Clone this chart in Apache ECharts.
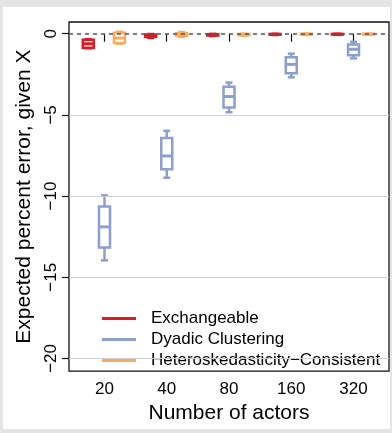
<!DOCTYPE html>
<html>
<head>
<meta charset="utf-8">
<script src="https://cdn.jsdelivr.net/npm/echarts@6/dist/echarts.min.js"></script>
<style>
  html, body { margin: 0; padding: 0; background: #e4e4e4; }
  #frame { position: absolute; left: 0; top: 0; width: 392px; height: 433px; background: #e4e4e4; }
  #chart { position: absolute; left: 3px; top: 7px; width: 387px; height: 422px; background: #fff; }
</style>
</head>
<body>
<div id="frame"><div id="chart"></div></div>
<script>
const sizes = ['20', '40', '80', '160', '320']
const seriesNames = ['Exchangeable', 'Dyadic Clustering', 'Heteroskedasticity\u2212Consistent']
const yTicks = [-20, -15, -10, -5, 0]

// [lower whisker, Q1, median, Q3, upper whisker] per number of actors
const exchangeable = [
  [-0.90, -0.86, -0.62, -0.38, -0.34],
  [-0.26, -0.20, -0.12, -0.05, -0.02],
  [-0.14, -0.11, -0.07, -0.03, -0.01],
  [-0.08, -0.06, -0.04, -0.02, -0.01],
  [-0.07, -0.05, -0.03, -0.02, -0.01]
]
const dyadic = [
  [-13.96, -13.17, -11.90, -10.64, -9.96],
  [-8.87, -8.35, -7.53, -6.43, -5.98],
  [-4.84, -4.54, -3.87, -3.27, -3.01],
  [-2.69, -2.44, -1.89, -1.45, -1.23],
  [-1.52, -1.33, -0.96, -0.66, -0.50]
]
const hetero = [
  [-0.62, -0.57, -0.27, 0.06, 0.12],
  [-0.20, -0.13, -0.05, 0.03, 0.10],
  [-0.12, -0.09, -0.06, -0.02, 0.00],
  [-0.08, -0.05, -0.03, -0.01, 0.00],
  [-0.07, -0.05, -0.03, -0.01, 0.00]
]

const colors = ['#dc1c24', '#8c9fd0', '#f9ab62']
const offsets = [-0.26, 0, 0.24]
const font = '"Liberation Sans", Arial, Helvetica, sans-serif'

const chart = echarts.init(document.getElementById('chart'))

// box with whiskers drawn in pixel space from the axis scales
const renderBox = (params, api) => {
  const x = api.value(0)
  const lo = api.coord([x, api.value(1)])
  const q1 = api.coord([x, api.value(2)])
  const med = api.coord([x, api.value(3)])
  const q3 = api.coord([x, api.value(4)])
  const hi = api.coord([x, api.value(5)])
  const cx = lo[0]
  const hw = 5.5 // half box width
  const cw = 3.5 // half cap width
  const color = api.visual('color')
  const st = { stroke: color, lineWidth: 2.5, fill: null }
  const line = (x1, y1, x2, y2, w) => ({
    type: 'line',
    shape: { x1, y1, x2, y2 },
    style: { stroke: color, lineWidth: w || 2.5 }
  })
  return {
    type: 'group',
    children: [
      line(cx, hi[1], cx, q3[1]),
      line(cx, q1[1], cx, lo[1]),
      line(cx - cw, hi[1], cx + cw, hi[1]),
      line(cx - cw, lo[1], cx + cw, lo[1]),
      { type: 'rect', shape: { x: cx - hw, y: q3[1], width: hw * 2, height: q1[1] - q3[1] }, style: st },
      line(cx - hw, med[1], cx + hw, med[1], 3)
    ]
  }
}

const boxSeries = [exchangeable, dyadic, hetero].map((rows, k) => ({
  name: seriesNames[k],
  type: 'custom',
  z: 3,
  itemStyle: { color: colors[k] },
  renderItem: renderBox,
  encode: { x: 0, y: [1, 2, 3, 4, 5] },
  data: rows.map((r, i) => [i + 1 + offsets[k], ...r])
}))

const option = {
  animation: false,
  backgroundColor: '#fff',
  textStyle: { fontFamily: font },
  grid: {
    left: 66, top: 15, width: 320, height: 357,
    show: true, borderColor: '#111', borderWidth: 1.3, backgroundColor: 'transparent'
  },
  legend: {
    orient: 'vertical',
    left: 94,
    top: 296,
    itemWidth: 34,
    itemHeight: 3,
    itemGap: 0,
    selectedMode: false,
    data: seriesNames.map(n => ({ name: n, icon: 'rect' })),
    textStyle: { fontSize: 17, color: '#000', fontFamily: font, lineHeight: 21, padding: [0, 0, 0, 10] }
  },
  xAxis: {
    type: 'value',
    min: 0.43,
    max: 5.57,
    name: 'Number of actors',
    nameLocation: 'middle',
    nameGap: 31,
    nameTextStyle: { fontSize: 21, color: '#000', fontFamily: font },
    axisLine: { show: false },
    splitLine: { show: false },
    axisTick: { show: true, length: 8, lineStyle: { color: '#111', width: 1.2 }, customValues: [1, 2, 3, 4, 5] },
    axisLabel: {
      fontSize: 17, color: '#000', margin: 10, fontFamily: font,
      customValues: [1, 2, 3, 4, 5],
      formatter: v => sizes[Math.round(v) - 1]
    }
  },
  yAxis: {
    type: 'value',
    min: -20.78,
    max: 0.72,
    name: 'Expected percent error, given X',
    nameLocation: 'middle',
    nameGap: 32,
    nameRotate: 90,
    nameTextStyle: { fontSize: 21, color: '#000', fontFamily: font },
    axisLine: { show: false },
    splitLine: { show: false },
    axisTick: { show: true, length: 7, lineStyle: { color: '#111', width: 1.2 }, customValues: yTicks },
    axisLabel: {
      fontSize: 17, color: '#000', margin: 9, rotate: 90, fontFamily: font,
      customValues: yTicks,
      formatter: v => (v < 0 ? '\u2212' + Math.abs(v) : String(v))
    }
  },
  series: [
    {
      type: 'line',
      z: 1,
      silent: true,
      data: [],
      markLine: {
        silent: true,
        symbol: 'none',
        label: { show: false },
        lineStyle: { color: '#cfcfcf', width: 1, type: 'solid' },
        data: yTicks.filter(v => v !== 0).map(v => ({ yAxis: v }))
      }
    },
    ...boxSeries,
    {
      type: 'line',
      z: 5,
      silent: true,
      data: [],
      markLine: {
        silent: true,
        symbol: 'none',
        label: { show: false },
        lineStyle: { color: '#555', width: 1.5, type: [4, 4] },
        data: [{ yAxis: 0 }]
      }
    }
  ]
}

chart.setOption(option)
</script>
</body>
</html>
